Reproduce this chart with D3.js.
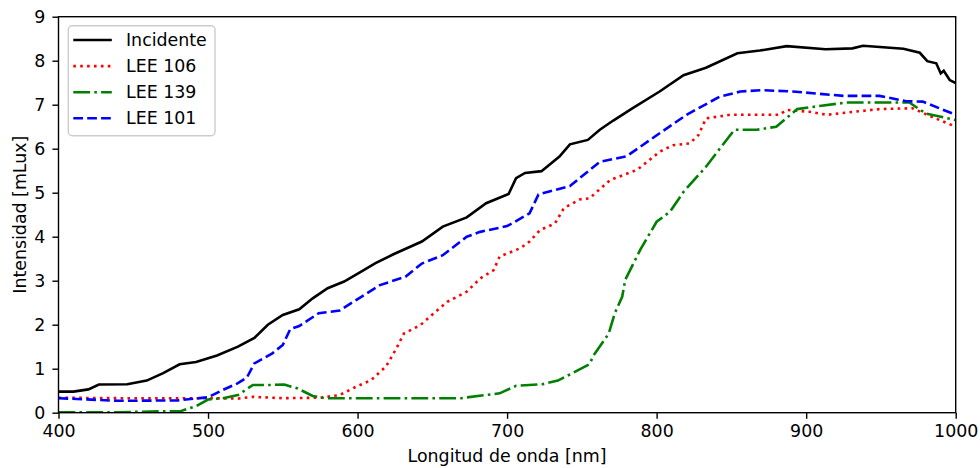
<!DOCTYPE html>
<html lang="es">
<head>
<meta charset="utf-8" />
<script src="https://cdn.jsdelivr.net/npm/d3@7"></script>
<style>
  body { margin: 0; background: #fff; }
  text { font-family: "DejaVu Sans", sans-serif; }
</style>
</head>
<body>
<script>
// wavelengths [nm] and intensity [mLux]
var incX = [400,410,420,427,446,459,470,481,492,506,520,531,540,550,561,570,580,591,601,612,624,643,657,673,686,701,706,712,723,735,742,754,762,771,784,802,818,833,854,869,887,913,931,938,965,976,981,987,990,992,996,1000];
var incY = [0.48,0.48,0.53,0.64,0.645,0.73,0.9,1.1,1.15,1.3,1.5,1.7,2.0,2.22,2.35,2.6,2.83,2.98,3.18,3.4,3.6,3.89,4.23,4.44,4.76,4.97,5.33,5.45,5.49,5.82,6.1,6.2,6.43,6.64,6.92,7.3,7.67,7.84,8.17,8.23,8.33,8.26,8.28,8.34,8.27,8.18,7.99,7.94,7.71,7.77,7.56,7.49];

var l106X = [400,440,480,500,520,530,550,575,588,599,609,619,626,631,642,651,660,673,682,691,695,709,715,722,732,738,749,755,769,787,802,811,822,828,833,849,882,887,902,914,927,949,971,983,1000];
var l106Y = [0.34,0.33,0.33,0.33,0.32,0.36,0.33,0.34,0.4,0.59,0.74,1.05,1.46,1.8,1.99,2.26,2.52,2.75,3.05,3.24,3.55,3.74,3.89,4.15,4.3,4.65,4.85,4.87,5.29,5.52,5.93,6.08,6.12,6.31,6.69,6.77,6.77,6.88,6.84,6.77,6.82,6.9,6.92,6.74,6.5];

var l139X = [400,440,482,492,500,510,520,530,541,551,560,570,578,669,695,706,724,734,755,758,768,772,777,779,789,800,809,818,833,844,852,867,880,894,909,927,969,980,1000];
var l139Y = [0.01,0.01,0.04,0.15,0.3,0.33,0.4,0.63,0.63,0.64,0.55,0.38,0.33,0.33,0.44,0.61,0.65,0.73,1.1,1.31,1.8,2.26,2.64,3.02,3.7,4.34,4.57,5.02,5.59,6.08,6.43,6.43,6.5,6.9,6.97,7.05,7.05,6.8,6.65];

var l101X = [400,440,480,500,510,520,526,531,543,550,555,561,574,588,599,615,632,643,657,673,682,700,715,721,742,762,780,802,820,842,856,871,891,925,949,967,978,1000];
var l101Y = [0.33,0.27,0.28,0.35,0.52,0.67,0.8,1.12,1.35,1.54,1.9,1.97,2.26,2.32,2.56,2.9,3.09,3.39,3.58,4.0,4.11,4.24,4.53,4.96,5.15,5.7,5.83,6.35,6.77,7.18,7.3,7.33,7.3,7.2,7.2,7.08,7.07,6.77];

var labels = ["Incidente", "LEE 106", "LEE 139", "LEE 101"];
var colors = ["#000000", "#ff0000", "#008000", "#0000ff"];
var dashes = [null, "2.6,4.3", "16.8,4.2,2.6,4.2", "9.7,4.2"];
var xTicks = [400,500,600,700,800,900,1000];
var yTicks = [0,1,2,3,4,5,6,7,8,9];

var series = [
  d3.zip(incX, incY),
  d3.zip(l106X, l106Y),
  d3.zip(l139X, l139Y),
  d3.zip(l101X, l101Y)
];

var w = 980, h = 468;
var margin = {top: 16.7, right: 24.3, bottom: 55.3, left: 58.5};
var fs = 17.4;

var svg = d3.select("body").append("svg")
    .attr("width", w)
    .attr("height", h);

var x = d3.scaleLinear().domain([400, 1000]).range([margin.left, w - margin.right]);
var y = d3.scaleLinear().domain([0, 9]).range([h - margin.bottom, margin.top]);

var line = d3.line()
    .x(function(d) { return x(d[0]); })
    .y(function(d) { return y(d[1]); });

// clip to the plot area
svg.append("clipPath").attr("id", "clip")
  .append("rect")
    .attr("x", x(400)).attr("y", y(9))
    .attr("width", x(1000) - x(400)).attr("height", y(0) - y(9));

svg.append("g").attr("clip-path", "url(#clip)")
  .selectAll("path")
  .data(series)
  .enter().append("path")
    .attr("d", line)
    .attr("fill", "none")
    .attr("stroke", function(d, i) { return colors[i]; })
    .attr("stroke-width", 2.6)
    .attr("stroke-dasharray", function(d, i) { return dashes[i]; });

// axes
var xAxis = svg.append("g")
    .attr("transform", "translate(0," + y(0) + ")")
    .call(d3.axisBottom(x).tickValues(xTicks).tickSize(6.1).tickPadding(6).tickFormat(d3.format("d")));
var yAxis = svg.append("g")
    .attr("transform", "translate(" + x(400) + ",0)")
    .call(d3.axisLeft(y).tickValues(yTicks).tickSize(6.1).tickPadding(7).tickFormat(d3.format("d")));

[xAxis, yAxis].forEach(function(a) {
  a.select(".domain").remove();
  a.selectAll("line").attr("stroke", "#000").attr("stroke-width", 1.4);
  a.selectAll("text").attr("font-size", fs).attr("fill", "#000")
    .style("font-family", "DejaVu Sans, sans-serif");
});

// frame
svg.append("rect")
    .attr("x", x(400)).attr("y", y(9))
    .attr("width", x(1000) - x(400)).attr("height", y(0) - y(9))
    .attr("fill", "none").attr("stroke", "#000").attr("stroke-width", 1.4);

// axis labels
svg.append("text")
    .attr("x", (x(400) + x(1000)) / 2)
    .attr("y", 461.5)
    .attr("text-anchor", "middle")
    .attr("font-size", fs)
    .text("Longitud de onda [nm]");
svg.append("text")
    .attr("transform", "translate(26," + (y(0) + y(9)) / 2 + ") rotate(-90)")
    .attr("text-anchor", "middle")
    .attr("font-size", fs)
    .text("Intensidad [mLux]");

// legend
var lg = svg.append("g").attr("transform", "translate(68.3,25.7)");
lg.append("rect")
    .attr("width", 146.7).attr("height", 110)
    .attr("rx", 4)
    .attr("fill", "#fff").attr("fill-opacity", 0.8)
    .attr("stroke", "#cccccc").attr("stroke-width", 1.4);
var items = lg.selectAll("g.item")
    .data(labels)
    .enter().append("g")
    .attr("transform", function(d, i) { return "translate(0," + (14.3 + i * 26.1) + ")"; });
items.append("line")
    .attr("x1", 5).attr("x2", 43.5)
    .attr("stroke", function(d, i) { return colors[i]; })
    .attr("stroke-width", 2.6)
    .attr("stroke-dasharray", function(d, i) { return dashes[i]; });
items.append("text")
    .attr("x", 57.7).attr("dy", "0.35em")
    .attr("font-size", fs)
    .text(function(d) { return d; });
</script>
</body>
</html>
